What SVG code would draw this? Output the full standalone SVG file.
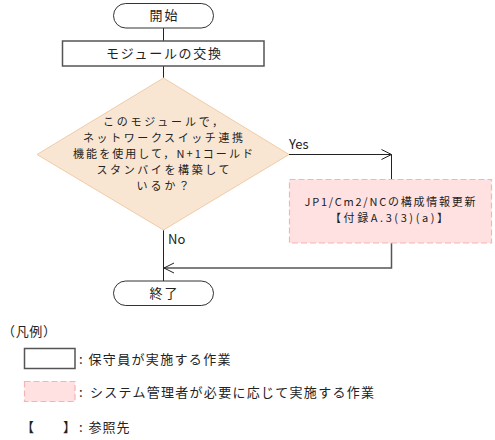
<svg xmlns="http://www.w3.org/2000/svg" width="495" height="440" viewBox="0 0 495 440">
<style>
text{font-family:"Noto Sans CJK JP","Noto Sans",sans-serif;font-size:13px;fill:#222}
.mid{text-anchor:middle}
.sm{font-size:11px}
.term{fill:#fff;stroke:#333;stroke-width:1}
.proc{fill:#fff;stroke:#555;stroke-width:1.5}
.dec{fill:#f8e6d3;stroke:#f0cca8;stroke-width:1}
.admin{fill:#ffe1e1;stroke:#f5b3b3;stroke-width:1.2;stroke-dasharray:6 3}
.ln{fill:none;stroke:#222;stroke-width:1}
.ret{fill:none;stroke:#555;stroke-width:1.5}
</style>
<defs>
<marker id="open" viewBox="0 0 12 12" refX="11" refY="6" markerWidth="12" markerHeight="12" markerUnits="userSpaceOnUse" orient="auto">
<path d="M1,1 L11,6 L1,11" fill="none" stroke="#222" stroke-width="1"/>
</marker>
</defs>
<g id="connectors">
<path class="ln" d="M163.5,28 V41"/>
<path class="ln" d="M163.5,66 V78"/>
<path class="ln" d="M289,154.5 H391.5" marker-end="url(#open)"/>
<path class="ln" d="M391.5,154.5 V179"/>
<path class="ln" d="M163.5,230 V281"/>
<path class="ret" d="M391.5,243 V268 H164" marker-end="url(#open)"/>
<text x="289" y="149">Yes</text>
<text x="168" y="244">No</text>
</g>
<g id="start">
<rect class="term" x="113.5" y="3.5" width="100" height="24.5" rx="12.25"/>
<text class="mid" x="163.5" y="20" textLength="28">開始</text>
</g>
<g id="replace">
<rect class="proc" x="62.5" y="41" width="201.5" height="25"/>
<text class="mid" x="163.5" y="58" textLength="115">モジュールの交換</text>
</g>
<g id="decision">
<polygon class="dec" points="163.5,78 289,154.5 163.5,230 37,154.5"/>
<text class="mid sm" x="163" y="126" textLength="120">このモジュールで，</text>
<text class="mid sm" x="163" y="142" textLength="160">ネットワークスイッチ連携</text>
<text class="mid sm" x="163" y="158" textLength="180">機能を使用して，N+1コールド</text>
<text class="mid sm" x="163" y="174" textLength="133">スタンバイを構築して</text>
<text class="mid sm" x="163" y="190" textLength="53">いるか？</text>
</g>
<g id="update">
<rect class="admin" x="289.5" y="179.5" width="202" height="63.5"/>
<text class="mid sm" x="390" y="206" textLength="171">JP1/Cm2/NCの構成情報更新</text>
<text class="mid sm" x="389" y="222" textLength="118">【付録A.3(3)(a)】</text>
</g>
<g id="end">
<rect class="term" x="113.5" y="281" width="100" height="24.5" rx="12.25"/>
<text class="mid" x="163.5" y="298" textLength="28">終了</text>
</g>
<g id="legend">
<text x="2" y="336" textLength="54">（凡例）</text>
<rect class="proc" x="24.5" y="348.5" width="50.5" height="20"/>
<text x="79" y="364">:</text>
<text x="88.5" y="364" textLength="142">保守員が実施する作業</text>
<rect class="admin" x="24.5" y="381.5" width="50.5" height="20"/>
<text x="79" y="397">:</text>
<text x="90" y="397" textLength="284">システム管理者が必要に応じて実施する作業</text>
<text x="21" y="432">【</text>
<text x="63" y="432">】</text>
<text x="79" y="432">:</text>
<text x="88.5" y="432" textLength="41">参照先</text>
</g>
</svg>
